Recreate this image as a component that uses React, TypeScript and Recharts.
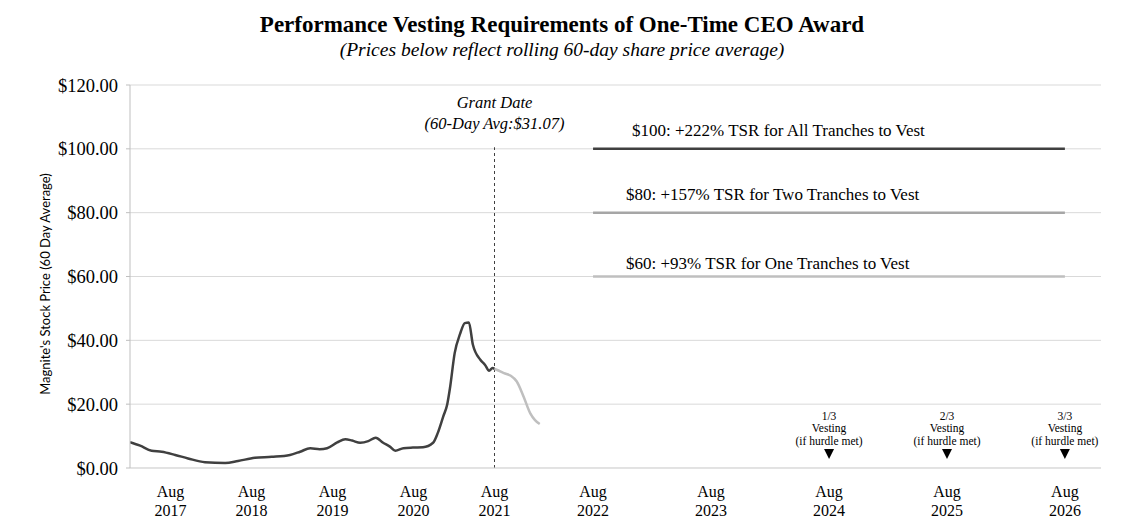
import React from 'react';
import { ComposedChart, Line, Scatter, XAxis, YAxis, CartesianGrid, ReferenceLine } from 'recharts';

// ---- data ----
// x positions are axis slots (1 slot = 1 month through Aug 2021; later years are wider, as in the original axis)
const xTickSlots = [6, 18, 30, 42, 54, 68.6, 86.07, 103.56, 121.04, 138.5];
const xTickLabels = ['Aug 2017', 'Aug 2018', 'Aug 2019', 'Aug 2020', 'Aug 2021', 'Aug 2022', 'Aug 2023', 'Aug 2024', 'Aug 2025', 'Aug 2026'];
const xDomainEnd = 143.85;

const yTicks = [0, 20, 40, 60, 80, 100, 120];

const priceSlots = [0, 1.5, 3.2, 4.7, 6.7, 8.6, 11.1, 14.1, 16, 18.5, 21, 23.7, 25.2, 26.7, 28.1, 29.2, 30.7, 31.9, 32.9, 34.1, 35.3, 36.4, 37.5, 38.5, 39.3, 40.5, 41.9, 43.4, 44.9, 45.6, 46.4, 47.0, 47.4, 48.1, 48.9, 49.6, 50.2, 50.8, 51.9, 52.6, 53.2, 53.7, 54];
const priceValues = [8.1, 7.0, 5.4, 5.1, 4.1, 3.0, 1.8, 1.6, 2.2, 3.2, 3.5, 4.1, 5.1, 6.2, 5.9, 6.2, 8.0, 9.0, 8.6, 7.9, 8.4, 9.5, 7.9, 6.7, 5.4, 6.2, 6.4, 6.5, 7.9, 11.0, 16.1, 20.0, 25.0, 36, 42, 45.4, 45.6, 38.6, 33.9, 32.3, 30.5, 31.3, 31.07];

const postSlots = [54, 54.4, 55.4, 56.4, 57.3, 58.3, 59.3, 60, 60.7];
const postValues = [31.07, 30.7, 29.7, 28.9, 27.1, 22.4, 17.1, 15, 13.8];

const grantSlot = 54;
const grantLineTop = 100.5;
const grantLabels = ['Grant Date', '(60-Day Avg:$31.07)'];

const hurdleValues = [100, 80, 60];
const hurdleLabels = [
  '$100: +222% TSR for All Tranches to Vest',
  '$80: +157% TSR for Two Tranches to Vest',
  '$60: +93% TSR for One Tranches to Vest',
];
const hurdleStart = 68.6;
const hurdleEnd = 138.5;

const vestingSlots = [103.56, 121.04, 138.5];
const vestingFractions = ['1/3', '2/3', '3/3'];

// ---- styles ----
const SERIF = '"Liberation Serif", "Times New Roman", serif';
const hurdleColors = ['#404040', '#a6a6a6', '#bfbfbf'];
const hurdleLabelOffsets = [
  { dx: 39, dy: -13 },
  { dx: 33, dy: -12.6 },
  { dx: 33, dy: -7.4 },
];

const priceData = priceSlots.map((u, i) => ({ u, v: priceValues[i] }));
const postData = postSlots.map((u, i) => ({ u, v: postValues[i] }));
const hurdleData = hurdleValues.map((v) => [{ u: hurdleStart, v }, { u: hurdleEnd, v }]);
const hurdleLabelData = hurdleValues.map((v, i) => ({ u: hurdleStart, v, i }));
const vestingData = vestingSlots.map((u, i) => ({ u, v: 0, i }));
const grantData = [{ u: grantSlot, v: grantLineTop }];

const XTick = (props: any) => {
  const { x, y, payload } = props;
  const idx = xTickSlots.indexOf(payload.value);
  const label = idx >= 0 ? xTickLabels[idx] : '';
  const [m, yr] = label.split(' ');
  return (
    <g>
      <text x={x} y={y + 29} textAnchor="middle" fontFamily={SERIF} fontSize={16} fill="#000">{m}</text>
      <text x={x} y={y + 48} textAnchor="middle" fontFamily={SERIF} fontSize={16} fill="#000">{yr}</text>
    </g>
  );
};

const VestShape = (props: any) => {
  const { cx, cy, payload } = props;
  const t = { textAnchor: 'middle' as const, fontFamily: SERIF, fontSize: 11.5, fill: '#000' };
  return (
    <g>
      <text x={cx} y={cy - 48} {...t}>{vestingFractions[payload.i]}</text>
      <text x={cx} y={cy - 36} {...t}>Vesting</text>
      <text x={cx} y={cy - 23} {...t}>(if hurdle met)</text>
      <path d={`M${cx - 5},${cy - 19} L${cx + 5},${cy - 19} L${cx},${cy - 9} Z`} fill="#000" />
    </g>
  );
};

const HurdleLabelShape = (props: any) => {
  const { cx, cy, payload } = props;
  const off = hurdleLabelOffsets[payload.i];
  return (
    <text x={cx + off.dx} y={cy + off.dy} fontFamily={SERIF} fontSize={17} fill="#000">
      {hurdleLabels[payload.i]}
    </text>
  );
};

const GrantLabelShape = (props: any) => {
  const { cx, cy } = props;
  const t = { textAnchor: 'middle' as const, fontFamily: SERIF, fontSize: 16.5, fontStyle: 'italic', fill: '#000' };
  return (
    <g>
      <text x={cx} y={cy - 39} {...t}>{grantLabels[0]}</text>
      <text x={cx} y={cy - 18} {...t}>{grantLabels[1]}</text>
    </g>
  );
};

export default function App() {
  const W = 1109;
  const H = 515;
  return (
    <div style={{ position: 'relative', width: W, height: H }}>
      <ComposedChart width={W} height={H} margin={{ top: 77, right: 16, bottom: 0, left: 42 }}>
        <CartesianGrid vertical={false} stroke="#d9d9d9" strokeWidth={1} />
        <XAxis
          type="number"
          dataKey="u"
          domain={[0, xDomainEnd]}
          ticks={xTickSlots}
          interval={0}
          tick={<XTick />}
          tickLine={false}
          tickSize={0}
          tickMargin={0}
          axisLine={{ stroke: '#d9d9d9' }}
          height={55}
          allowDataOverflow
        />
        <YAxis
          type="number"
          dataKey="v"
          domain={[0, 120]}
          ticks={yTicks}
          interval={0}
          width={80}
          tickFormatter={(v: number) => `$${v.toFixed(2)}`}
          tick={{ fontFamily: SERIF, fontSize: 18.5, fill: '#000' }}
          axisLine={{ stroke: '#bfbfbf' }}
          tickLine={{ stroke: '#bfbfbf' }}
          tickSize={4}
          tickMargin={8}
        />
        <ReferenceLine
          segment={[{ x: grantSlot, y: 0 }, { x: grantSlot, y: grantLineTop }]}
          stroke="#404040"
          strokeWidth={1}
          strokeDasharray="3 3"
        />
        {hurdleData.map((d, i) => (
          <Line
            key={`h${i}`}
            data={d}
            dataKey="v"
            type="linear"
            stroke={hurdleColors[i]}
            strokeWidth={2.5}
            dot={false}
            activeDot={false}
            isAnimationActive={false}
          />
        ))}
        <Line data={priceData} dataKey="v" type="monotone" stroke="#404040" strokeWidth={2.5} dot={false} activeDot={false} isAnimationActive={false} />
        <Line data={postData} dataKey="v" type="monotone" stroke="#bfbfbf" strokeWidth={2.5} dot={false} activeDot={false} isAnimationActive={false} />
        <Scatter data={hurdleLabelData} dataKey="v" shape={HurdleLabelShape} isAnimationActive={false} />
        <Scatter data={vestingData} dataKey="v" shape={VestShape} isAnimationActive={false} />
        <Scatter data={grantData} dataKey="v" shape={GrantLabelShape} isAnimationActive={false} />
      </ComposedChart>
      <svg width={W} height={H} style={{ position: 'absolute', left: 0, top: 0, pointerEvents: 'none' }}>
        <text x={554} y={24} textAnchor="middle" fontFamily={SERIF} fontSize={23} fontWeight="bold" fill="#000">
          Performance Vesting Requirements of One-Time CEO Award
        </text>
        <text x={554} y={48} textAnchor="middle" fontFamily={SERIF} fontSize={19.5} fontStyle="italic" fill="#000">
          (Prices below reflect rolling 60-day share price average)
        </text>
        <text
          x={37}
          y={276}
          transform="rotate(-90 37 276)"
          textAnchor="middle"
          dominantBaseline="central"
          fontFamily='Lato, "Open Sans", sans-serif'
          fontSize={13}
          fill="#000"
        >
          Magnite's Stock Price (60 Day Average)
        </text>
      </svg>
    </div>
  );
}
